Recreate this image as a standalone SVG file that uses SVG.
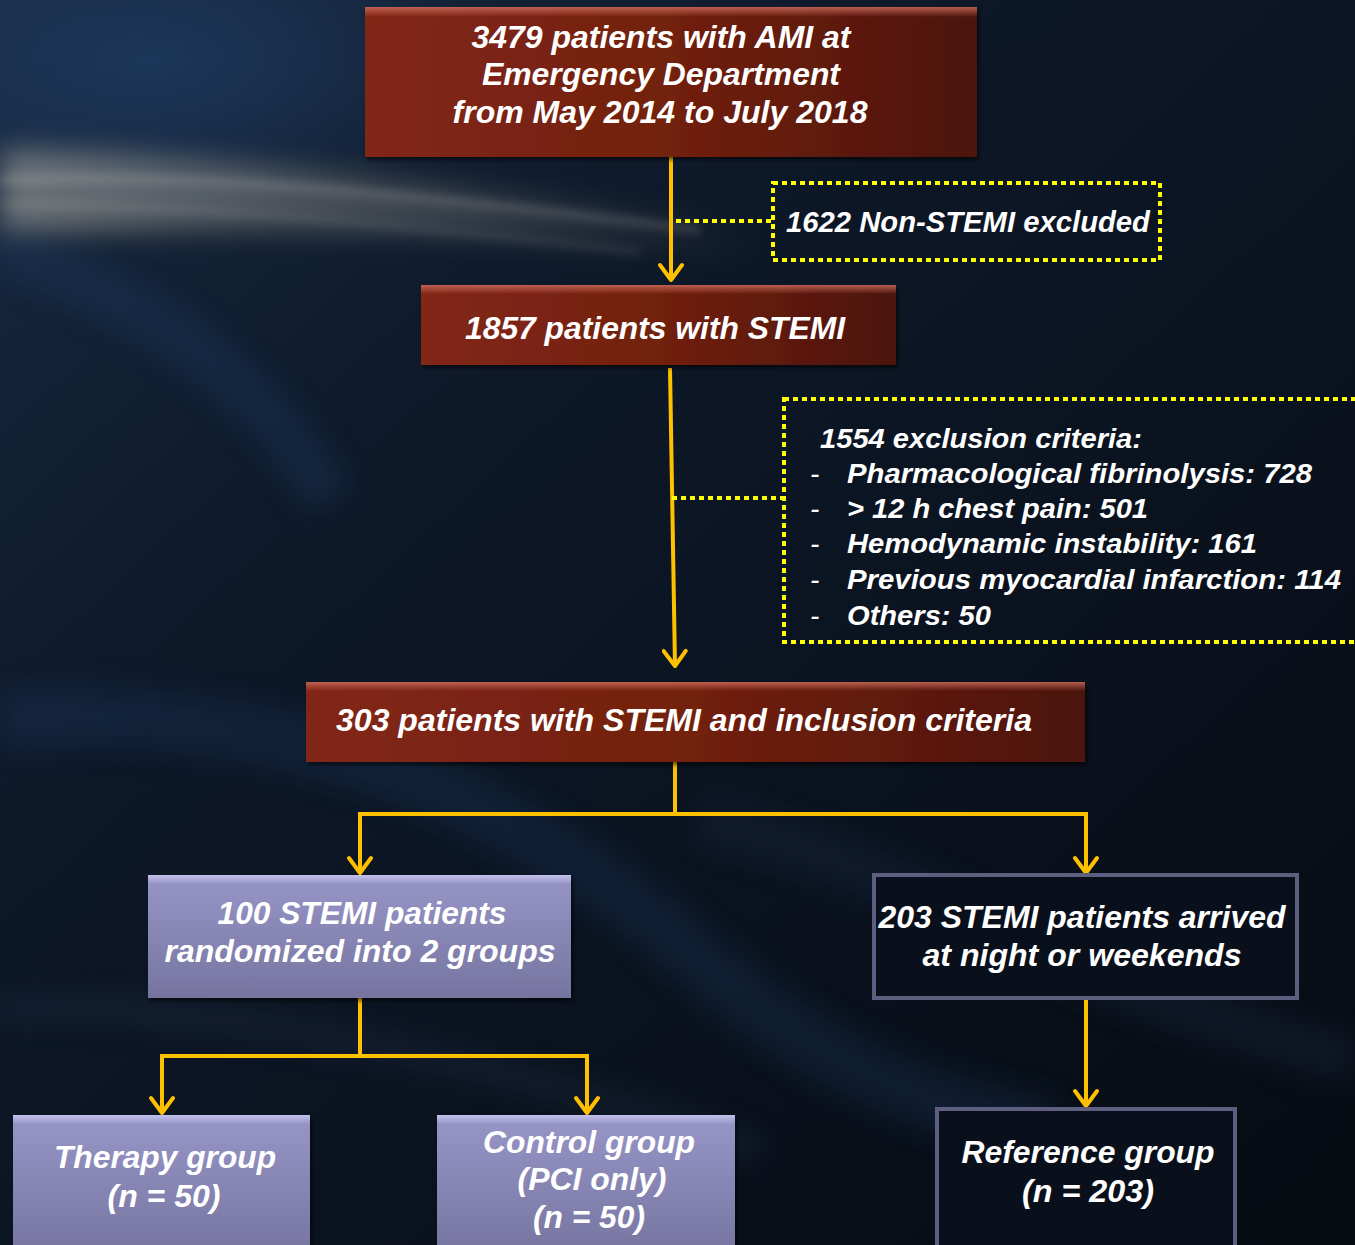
<svg xmlns="http://www.w3.org/2000/svg" width="1355" height="1245" viewBox="0 0 1355 1245">
<defs>
<style>
.t{font-family:"Liberation Sans",Arial,sans-serif;font-weight:bold;font-style:italic;fill:#ffffff}
.c{text-anchor:middle}
.conn{fill:none;stroke:#ffc000;stroke-width:4}
.dot{fill:none;stroke:#ffff00;stroke-width:4;stroke-dasharray:5 4}
.dark{fill:#0a101b;stroke:#5e5f80;stroke-width:4}
</style>
<linearGradient id="bg" x1="0" y1="0" x2="1" y2="1">
<stop offset="0" stop-color="#182a42"/>
<stop offset="0.35" stop-color="#0d1828"/>
<stop offset="1" stop-color="#070b12"/>
</linearGradient>
<radialGradient id="glowL" cx="0.5" cy="0.5" r="0.5">
<stop offset="0" stop-color="#1f3e66" stop-opacity="0.7"/>
<stop offset="1" stop-color="#1f3e66" stop-opacity="0"/>
</radialGradient>
<linearGradient id="red" x1="0" y1="0" x2="1" y2="0">
<stop offset="0" stop-color="#822716"/>
<stop offset="0.5" stop-color="#72200f"/>
<stop offset="1" stop-color="#4c140a"/>
</linearGradient>
<linearGradient id="redtop" x1="0" y1="0" x2="0" y2="1">
<stop offset="0" stop-color="#d07060" stop-opacity="0.8"/>
<stop offset="1" stop-color="#d07060" stop-opacity="0"/>
</linearGradient>
<linearGradient id="purple" x1="0" y1="0" x2="0" y2="1">
<stop offset="0" stop-color="#9896c8"/>
<stop offset="1" stop-color="#76749f"/>
</linearGradient>
<linearGradient id="purtop" x1="0" y1="0" x2="0" y2="1">
<stop offset="0" stop-color="#c8c6f0" stop-opacity="0.9"/>
<stop offset="1" stop-color="#c8c6f0" stop-opacity="0"/>
</linearGradient>
<linearGradient id="streak" x1="0" y1="0" x2="1" y2="0">
<stop offset="0" stop-color="#d8d0c0" stop-opacity="0.45"/>
<stop offset="0.6" stop-color="#b8b0a0" stop-opacity="0.25"/>
<stop offset="1" stop-color="#b8b0a0" stop-opacity="0"/>
</linearGradient>
<filter id="blur" x="-20%" y="-50%" width="140%" height="200%"><feGaussianBlur stdDeviation="14"/></filter>
<filter id="blur2" x="-20%" y="-50%" width="140%" height="200%"><feGaussianBlur stdDeviation="5"/></filter>
<filter id="sh" x="-5%" y="-10%" width="110%" height="130%"><feDropShadow dx="2" dy="3" stdDeviation="2" flood-color="#000" flood-opacity="0.6"/></filter>
<marker id="ah" viewBox="0 0 26 26" refX="23" refY="13" markerWidth="26" markerHeight="26" markerUnits="userSpaceOnUse" orient="auto-start-reverse">
<path d="M8 2 L23 13 L8 24" fill="none" stroke="#ffc000" stroke-width="4" stroke-linecap="round" stroke-linejoin="round"/>
</marker>
</defs>

<g id="background">
<rect width="1355" height="1245" fill="url(#bg)"/>
<ellipse cx="150" cy="60" rx="350" ry="160" fill="url(#glowL)"/>
<path d="M0 150 C200 150 450 185 760 230 L760 260 C450 225 200 225 0 235 Z" fill="url(#streak)" filter="url(#blur)"/>
<path d="M0 180 C200 172 420 195 700 230" fill="none" stroke="#e8e0d0" stroke-width="8" opacity="0.18" filter="url(#blur2)"/>
<path d="M0 205 C200 205 400 225 640 252" fill="none" stroke="#e8e0d0" stroke-width="6" opacity="0.12" filter="url(#blur2)"/>
<path d="M0 250 C150 300 260 380 330 500" fill="none" stroke="#1e3a60" stroke-width="50" opacity="0.35" filter="url(#blur)"/>
<path d="M0 720 C300 700 520 800 700 960 C800 1050 900 1100 1050 1130" fill="none" stroke="#1c3a62" stroke-width="60" opacity="0.3" filter="url(#blur)"/>
<path d="M0 1010 C200 1000 500 1060 760 1150" fill="none" stroke="#2a3e58" stroke-width="26" opacity="0.25" filter="url(#blur)"/>
<path d="M700 820 C900 860 1100 1000 1355 1060" fill="none" stroke="#1a2d48" stroke-width="50" opacity="0.3" filter="url(#blur)"/>
</g>

<g id="connectors">
<line class="conn" x1="671" y1="157" x2="671" y2="280" stroke-width="5" marker-end="url(#ah)"/>
<line class="conn" x1="670" y1="368" x2="675" y2="666" stroke-width="5" marker-end="url(#ah)"/>
<polyline class="conn" points="675,755 675,814"/>
<polyline class="conn" points="360,873 360,814 1086,814 1086,873" marker-start="url(#ah)" marker-end="url(#ah)"/>
<polyline class="conn" points="360,998 360,1056"/>
<polyline class="conn" points="162,1113 162,1056 587,1056 587,1113" marker-start="url(#ah)" marker-end="url(#ah)"/>
<line class="conn" x1="1086" y1="1000" x2="1086" y2="1106" stroke-width="5" marker-end="url(#ah)"/>
<line class="dot" x1="676" y1="221" x2="773" y2="221"/>
<line class="dot" x1="672" y1="498" x2="784" y2="498"/>
</g>

<g id="n1">
<rect x="365" y="7" width="612" height="150" fill="url(#red)" filter="url(#sh)"/>
<rect x="365" y="7" width="612" height="10" fill="url(#redtop)"/>
<text class="t c" x="661" y="48" font-size="31" textLength="379" lengthAdjust="spacingAndGlyphs">3479 patients with AMI at</text>
<text class="t c" x="661" y="85" font-size="31" textLength="358" lengthAdjust="spacingAndGlyphs">Emergency Department</text>
<text class="t c" x="660" y="123" font-size="31" textLength="415" lengthAdjust="spacingAndGlyphs">from May 2014 to July 2018</text>
</g>

<g id="n_excl1">
<rect class="dot" x="773" y="183" width="387" height="77"/>
<text class="t" x="786" y="232" font-size="29" textLength="364" lengthAdjust="spacingAndGlyphs">1622 Non-STEMI excluded</text>
</g>

<g id="n2">
<rect x="421" y="285" width="475" height="80" fill="url(#red)" filter="url(#sh)"/>
<rect x="421" y="285" width="475" height="9" fill="url(#redtop)"/>
<text class="t c" x="655" y="339" font-size="31" textLength="380" lengthAdjust="spacingAndGlyphs">1857 patients with STEMI</text>
</g>

<g id="n_excl2">
<rect class="dot" x="784" y="399" width="600" height="243"/>
<text class="t" x="820" y="448" font-size="28" textLength="322" lengthAdjust="spacingAndGlyphs">1554 exclusion criteria:</text>
<g class="t" font-size="28">
<text x="810" y="483" font-weight="normal">-</text>
<text x="847" y="483" textLength="465" lengthAdjust="spacingAndGlyphs">Pharmacological fibrinolysis: 728</text>
<text x="810" y="518" font-weight="normal">-</text>
<text x="847" y="518" textLength="301" lengthAdjust="spacingAndGlyphs">&gt; 12 h chest pain: 501</text>
<text x="810" y="553" font-weight="normal">-</text>
<text x="847" y="553" textLength="410" lengthAdjust="spacingAndGlyphs">Hemodynamic instability: 161</text>
<text x="810" y="589" font-weight="normal">-</text>
<text x="847" y="589" textLength="494" lengthAdjust="spacingAndGlyphs">Previous myocardial infarction: 114</text>
<text x="810" y="625" font-weight="normal">-</text>
<text x="847" y="625" textLength="144" lengthAdjust="spacingAndGlyphs">Others: 50</text>
</g>
</g>

<g id="n3">
<rect x="306" y="682" width="779" height="80" fill="url(#red)" filter="url(#sh)"/>
<rect x="306" y="682" width="779" height="9" fill="url(#redtop)"/>
<text class="t" x="336" y="731" font-size="31" textLength="696" lengthAdjust="spacingAndGlyphs">303 patients with STEMI and inclusion criteria</text>
</g>

<g id="n4">
<rect x="148" y="875" width="423" height="123" fill="url(#purple)" filter="url(#sh)"/>
<rect x="148" y="875" width="423" height="9" fill="url(#purtop)"/>
<text class="t c" x="362" y="924" font-size="31" textLength="289" lengthAdjust="spacingAndGlyphs">100 STEMI patients</text>
<text class="t c" x="360" y="962" font-size="31" textLength="391" lengthAdjust="spacingAndGlyphs">randomized into 2 groups</text>
</g>

<g id="n5">
<rect class="dark" x="874" y="875" width="423" height="123"/>
<text class="t c" x="1082" y="928" font-size="31" textLength="407" lengthAdjust="spacingAndGlyphs">203 STEMI patients arrived</text>
<text class="t c" x="1082" y="966" font-size="31" textLength="319" lengthAdjust="spacingAndGlyphs">at night or weekends</text>
</g>

<g id="n6">
<rect x="13" y="1115" width="297" height="140" fill="url(#purple)" filter="url(#sh)"/>
<rect x="13" y="1115" width="297" height="9" fill="url(#purtop)"/>
<text class="t c" x="165" y="1168" font-size="31" textLength="222" lengthAdjust="spacingAndGlyphs">Therapy group</text>
<text class="t c" x="164" y="1207" font-size="31" textLength="113" lengthAdjust="spacingAndGlyphs">(n = 50)</text>
</g>

<g id="n7">
<rect x="437" y="1115" width="298" height="140" fill="url(#purple)" filter="url(#sh)"/>
<rect x="437" y="1115" width="298" height="9" fill="url(#purtop)"/>
<text class="t c" x="589" y="1153" font-size="31" textLength="212" lengthAdjust="spacingAndGlyphs">Control group</text>
<text class="t c" x="592" y="1190" font-size="31" textLength="149" lengthAdjust="spacingAndGlyphs">(PCI only)</text>
<text class="t c" x="589" y="1228" font-size="31" textLength="112" lengthAdjust="spacingAndGlyphs">(n = 50)</text>
</g>

<g id="n8">
<rect class="dark" x="937" y="1109" width="298" height="150"/>
<text class="t c" x="1088" y="1163" font-size="31" textLength="253" lengthAdjust="spacingAndGlyphs">Reference group</text>
<text class="t c" x="1088" y="1202" font-size="31" textLength="132" lengthAdjust="spacingAndGlyphs">(n = 203)</text>
</g>
</svg>
